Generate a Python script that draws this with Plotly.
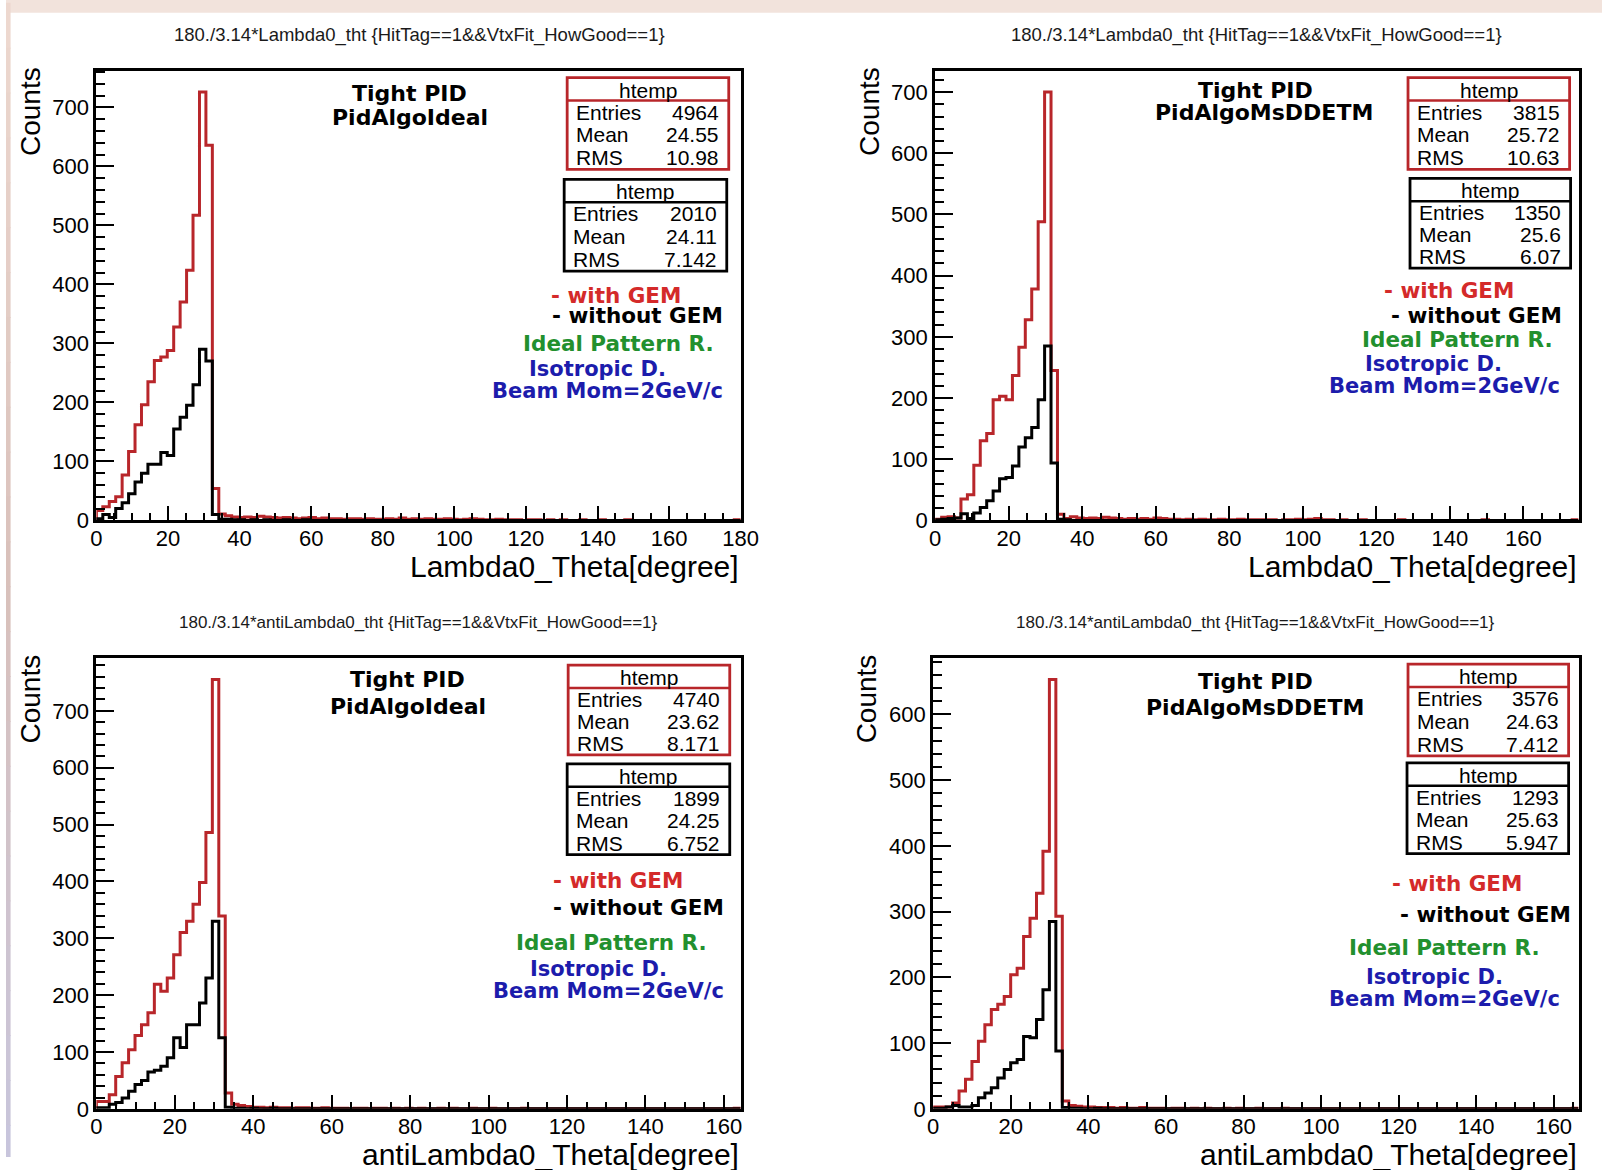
import numpy as np
import plotly.graph_objects as go

W, H = 1620, 1170

# ---------------- data (counts per bin, 100 bins each) ----------------
TL_RED = [17, 23, 32, 40, 77, 117, 162, 196, 235, 271, 277, 288, 328, 370, 424, 517, 726, 636, 54, 11,
          8, 6, 5, 6, 5, 7, 6, 5, 4, 5, 4, 3, 4, 5, 3, 4, 3, 3, 2, 3,
          3, 2, 3, 2, 2, 3, 2, 4, 2, 3, 2, 3, 2, 2, 3, 2, 1, 2, 3, 2,
          1, 1, 2, 1, 1, 1, 0, 1, 1, 0, 1, 0, 1, 0, 0, 1, 0, 0, 1, 0,
          0, 0, 1, 0, 0, 0, 0, 0, 0, 0, 0, 0, 0, 0, 0, 0, 0, 0, 0, 1]
TL_BLACK = [3, 10, 5, 20, 30, 45, 65, 80, 95, 95, 115, 110, 155, 175, 195, 230, 290, 270, 10, 2,
            2, 1, 1, 0, 1, 0, 1, 0, 0, 1, 0, 0, 1, 0, 0, 0, 0, 0, 0, 0,
            0, 0, 0, 0, 0, 0, 0, 0, 0, 0, 0, 0, 0, 0, 0, 0, 0, 0, 0, 0,
            0, 0, 0, 0, 0, 0, 0, 0, 0, 0, 0, 0, 0, 0, 0, 0, 0, 0, 0, 0,
            0, 0, 0, 0, 0, 0, 0, 0, 0, 0, 0, 0, 0, 0, 0, 0, 0, 0, 0, 0]
TR_RED = [2, 5, 6, 4, 35, 42, 90, 130, 142, 197, 203, 197, 237, 283, 328, 378, 488, 700, 245, 10,
          3, 6, 4, 3, 4, 3, 5, 4, 3, 2, 3, 2, 3, 2, 4, 3, 2, 2, 1, 2,
          1, 2, 1, 1, 2, 1, 1, 2, 1, 1, 1, 1, 1, 0, 1, 1, 2, 1, 2, 3,
          1, 1, 0, 1, 0, 0, 1, 0, 0, 0, 0, 0, 1, 0, 0, 0, 0, 0, 0, 0,
          0, 0, 0, 0, 0, 1, 0, 0, 0, 0, 0, 0, 0, 0, 0, 0, 0, 0, 0, 1]
TR_BLACK = [1, 2, 3, 4, 11, 3, 12, 21, 32, 48, 68, 70, 89, 120, 135, 152, 197, 285, 94, 2,
            1, 0, 0, 0, 0, 0, 0, 0, 0, 0, 0, 0, 0, 0, 0, 0, 0, 0, 0, 0,
            0, 0, 0, 0, 0, 0, 0, 0, 0, 0, 0, 0, 0, 0, 0, 0, 0, 0, 0, 0,
            0, 0, 0, 0, 0, 0, 0, 0, 0, 0, 0, 0, 0, 0, 0, 0, 0, 0, 0, 0,
            0, 0, 0, 0, 0, 0, 0, 0, 0, 0, 0, 0, 0, 0, 0, 0, 0, 0, 0, 0]
BL_RED = [13, 13, 25, 57, 81, 104, 129, 148, 169, 219, 207, 230, 271, 310, 330, 360, 398, 486, 755, 339,
          28, 8, 6, 4, 3, 3, 2, 3, 2, 2, 1, 2, 2, 1, 1, 2, 1, 1, 1, 0,
          1, 1, 0, 1, 1, 0, 1, 0, 1, 0, 1, 0, 0, 1, 0, 1, 0, 0, 1, 0,
          0, 1, 0, 0, 0, 0, 1, 0, 0, 0, 0, 0, 0, 0, 0, 0, 0, 0, 0, 0,
          0, 0, 0, 0, 0, 0, 0, 0, 0, 0, 0, 0, 0, 0, 0, 0, 0, 0, 0, 1]
BL_BLACK = [2, 2, 8, 11, 19, 31, 43, 50, 65, 68, 75, 90, 125, 108, 148, 148, 186, 230, 330, 125,
            3, 1, 1, 0, 1, 0, 0, 1, 0, 0, 0, 0, 0, 0, 0, 0, 0, 0, 0, 0,
            0, 0, 0, 0, 0, 0, 0, 0, 0, 0, 0, 0, 0, 0, 0, 0, 0, 0, 0, 0,
            0, 0, 0, 0, 0, 0, 0, 0, 0, 0, 0, 0, 0, 0, 0, 0, 0, 0, 0, 0,
            0, 0, 0, 0, 0, 0, 0, 0, 0, 0, 0, 0, 0, 0, 0, 0, 0, 0, 0, 0]
BR_RED = [3, 3, 3, 9, 27, 45, 72, 103, 128, 151, 159, 171, 204, 214, 262, 290, 328, 392, 653, 293,
          12, 5, 4, 3, 3, 2, 2, 2, 1, 2, 1, 1, 2, 1, 1, 1, 0, 1, 1, 0,
          1, 0, 1, 0, 0, 1, 0, 1, 0, 0, 1, 0, 0, 0, 1, 0, 0, 0, 0, 0,
          0, 0, 0, 0, 0, 0, 0, 0, 0, 0, 0, 0, 0, 0, 0, 0, 0, 0, 0, 0,
          0, 0, 0, 0, 0, 0, 0, 0, 0, 0, 0, 0, 0, 0, 0, 0, 0, 0, 0, 1]
BR_BLACK = [1, 1, 3, 5, 3, 3, 5, 17, 24, 32, 47, 60, 70, 75, 110, 108, 136, 181, 285, 88,
            2, 1, 1, 0, 0, 1, 0, 0, 0, 0, 0, 0, 0, 0, 0, 0, 0, 0, 0, 0,
            0, 0, 0, 0, 0, 0, 0, 0, 0, 0, 0, 0, 0, 0, 0, 0, 0, 0, 0, 0,
            0, 0, 0, 0, 0, 0, 0, 0, 0, 0, 0, 0, 0, 0, 0, 0, 0, 0, 0, 0,
            0, 0, 0, 0, 0, 0, 0, 0, 0, 0, 0, 0, 0, 0, 0, 0, 0, 0, 0, 0]

X_MAX = [180.0, 175.0, 164.3, 166.4]

STATS_RED = [("4964", "24.55", "10.98"), ("3815", "25.72", "10.63"),
             ("4740", "23.62", "8.171"), ("3576", "24.63", "7.412")]
STATS_BLACK = [("2010", "24.11", "7.142"), ("1350", "25.6", "6.07"),
               ("1899", "24.25", "6.752"), ("1293", "25.63", "5.947")]

TITLES = ["180./3.14*Lambda0_tht {HitTag==1&&VtxFit_HowGood==1}",
          "180./3.14*Lambda0_tht {HitTag==1&&VtxFit_HowGood==1}",
          "180./3.14*antiLambda0_tht {HitTag==1&&VtxFit_HowGood==1}",
          "180./3.14*antiLambda0_tht {HitTag==1&&VtxFit_HowGood==1}"]
X_TITLES = ["Lambda0_Theta[degree]", "Lambda0_Theta[degree]",
            "antiLambda0_Theta[degree]", "antiLambda0_Theta[degree]"]
ALGOS = ["PidAlgoIdeal", "PidAlgoMsDDETM", "PidAlgoIdeal", "PidAlgoMsDDETM"]

RED_DATA = [TL_RED, TR_RED, BL_RED, BR_RED]
BLACK_DATA = [TL_BLACK, TR_BLACK, BL_BLACK, BR_BLACK]

# ---------------- layout geometry (target pixels in the final picture) ----------------
FRAMES = [(94, 68, 740, 519), (935, 68, 1580, 519), (94, 657, 740, 1109), (933, 657, 1580, 1109)]
TITLE_POS = [(418, 32), (1257, 32), (417, 621), (1256, 621)]
TITLE_SIZE = [18.5, 18.5, 17, 17]
RED_BOX = [(566, 75, 728, 167), (1409, 75, 1571, 167), (567, 664, 729, 754), (1409, 663, 1570, 755)]
BLK_BOX = [(563, 177, 726, 269), (1411, 176, 1572, 266), (566, 763, 729, 854), (1408, 762, 1570, 853)]
TXT_POS = [
    dict(tight=(408, 91), algo=(408, 115), wg=(615, 293), wog=(637, 314), ipr=(617, 342), iso=(596, 367), beam=(606, 389)),
    dict(tight=(1256, 88), algo=(1265, 110), wg=(1450, 288), wog=(1478, 314), ipr=(1459, 338), iso=(1435, 362), beam=(1446, 384)),
    dict(tight=(406, 678), algo=(406, 706), wg=(617, 880), wog=(638, 907), ipr=(610, 942), iso=(597, 969), beam=(607, 991)),
    dict(tight=(1256, 680), algo=(1256, 707), wg=(1458, 883), wog=(1487, 914), ipr=(1446, 947), iso=(1436, 977), beam=(1446, 999)),
]

RED_LINE = "#b8262a"
RED_TXT = "#d42a2a"
GREEN = "#22902e"
BLUE = "#1c1cac"

# the page is photographed slightly shrunk; map target picture pixels to
# figure paper coordinates accordingly (measured from earlier renders)
SX, OX, SY, OY = 0.9877, 3.4, 0.9915, -2.8


def px(x):
    return min(1.0, max(0.0, ((x - OX) / SX) / W))


def py(y):
    return min(1.0, max(0.0, 1 - ((y - OY) / SY) / H))


fig = go.Figure()
annotations = []
shapes = []


def text(x, y, s, color="black", size=20, family="DejaVu Sans", bold=True, xanchor="center", angle=0):
    annotations.append(dict(
        x=px(x), y=py(y), xref="paper", yref="paper", showarrow=False,
        text=("<b>%s</b>" % s) if bold else s, xanchor=xanchor, yanchor="middle",
        textangle=angle, font=dict(family=family, size=size, color=color)))


def stats_box(box, color, vals):
    x0, y0, x1, y1 = box
    hdr = y0 + 23
    shapes.append(dict(type="rect", xref="paper", yref="paper", x0=px(x0), x1=px(x1), y0=py(y1), y1=py(y0),
                       line=dict(color=color, width=2.8), fillcolor="white", layer="above"))
    shapes.append(dict(type="line", xref="paper", yref="paper", x0=px(x0), x1=px(x1), y0=py(hdr), y1=py(hdr),
                       line=dict(color=color, width=2.5), layer="above"))
    text((x0 + x1) / 2, (y0 + hdr) / 2 + 1, "htemp", size=21, family="Liberation Sans", bold=False)
    rh = (y1 - hdr) / 3.0
    for i, (lab, v) in enumerate(zip(["Entries", "Mean", "RMS"], vals)):
        yc = hdr + rh * (i + 0.5)
        text(x0 + 7, yc, lab, size=21, family="Liberation Sans", bold=False, xanchor="left")
        text(x1 - 8, yc, v, size=21, family="Liberation Sans", bold=False, xanchor="right")


for k in range(4):
    fx0, fy0, fx1, fy1 = FRAMES[k]
    xmax = X_MAX[k]
    red = RED_DATA[k]
    blk = BLACK_DATA[k]
    edges = np.linspace(0, xmax, len(red) + 1)
    xs = [edges[0]] + list(edges)
    ymax = 1.05 * max(red)
    suffix = "" if k == 0 else str(k + 1)
    for data, col in ((red, RED_LINE), (blk, "black")):
        ys = [0] + list(data) + [data[-1]]
        fig.add_trace(go.Scatter(x=xs, y=ys, mode="lines", line=dict(shape="hv", color=col, width=3),
                                 xaxis="x" + suffix, yaxis="y" + suffix, showlegend=False, hoverinfo="skip"))
    common = dict(showline=True, linewidth=3, linecolor="black", mirror=True, showgrid=False, zeroline=False,
                  ticks="inside", tickwidth=2, tickcolor="black",
                  tickfont=dict(family="Liberation Sans", size=22, color="black"))
    fig.layout["xaxis" + suffix] = dict(domain=[px(fx0), px(fx1)], range=[0, xmax], anchor="y" + suffix,
                                        dtick=20, tick0=0, ticklen=14, ticklabelstandoff=-4,
                                        minor=dict(ticks="inside", ticklen=7, dtick=5, tickwidth=2, tickcolor="black"),
                                        **common)
    fig.layout["yaxis" + suffix] = dict(domain=[py(fy1), py(fy0)], range=[0, ymax], anchor="x" + suffix,
                                        dtick=100, tick0=0, ticklen=18,
                                        minor=dict(ticks="inside", ticklen=9, dtick=20, tickwidth=2, tickcolor="black"),
                                        **common)

    # titles
    tx, ty = TITLE_POS[k]
    text(tx, ty, TITLES[k], color="#1a1a1a", size=TITLE_SIZE[k], family="Liberation Sans", bold=False)
    text(fx1, fy1 + 46, X_TITLES[k], size=30, family="Liberation Sans", bold=False, xanchor="right")
    text(fx0 - 66, fy0 + 41, "Counts", size=28, family="Liberation Sans", bold=False, angle=-90)

    # stats boxes
    stats_box(RED_BOX[k], RED_LINE, STATS_RED[k])
    stats_box(BLK_BOX[k], "black", STATS_BLACK[k])

    # labels
    p = TXT_POS[k]
    text(*p["tight"], "Tight PID", size=22)
    text(*p["algo"], ALGOS[k], size=22)
    text(*p["wg"], "- with GEM", color=RED_TXT, size=21.5)
    text(*p["wog"], "- without GEM", size=21.5)
    text(*p["ipr"], "Ideal Pattern R.", color=GREEN, size=21.5)
    text(*p["iso"], "Isotropic D.", color=BLUE, size=21)
    text(*p["beam"], "Beam Mom=2GeV/c", color=BLUE, size=21)

# slide background strips (kept inside the figure)
shapes.append(dict(type="rect", xref="paper", yref="paper", x0=0, x1=1, y0=py(10), y1=1,
                   fillcolor="#f2e3dc", line=dict(width=0), layer="below"))
top_c = np.array([0xee, 0xd9, 0xd0])
mid_c = np.array([0xd9, 0xc1, 0xbb])
bot_c = np.array([0xc8, 0xc6, 0xde])
nseg = 26
for i in range(nseg):
    t = (i + 0.5) / nseg
    if t < 0.5:
        c = top_c + (mid_c - top_c) * (t / 0.5)
    else:
        c = mid_c + (bot_c - mid_c) * ((t - 0.5) / 0.5)
    col = "rgb(%d,%d,%d)" % tuple(int(v) for v in c)
    ya = H * i / nseg
    yb = min(H, H * (i + 1) / nseg + 1)
    shapes.append(dict(type="rect", xref="paper", yref="paper", x0=0, x1=px(8), y0=py(yb), y1=py(ya),
                       fillcolor=col, line=dict(width=0), layer="below"))

fig.update_layout(width=W, height=H, margin=dict(l=0, r=0, t=0, b=0), autosize=False,
                  paper_bgcolor="white", plot_bgcolor="white",
                  annotations=annotations, shapes=shapes, showlegend=False)

fig.write_html("out.html")
